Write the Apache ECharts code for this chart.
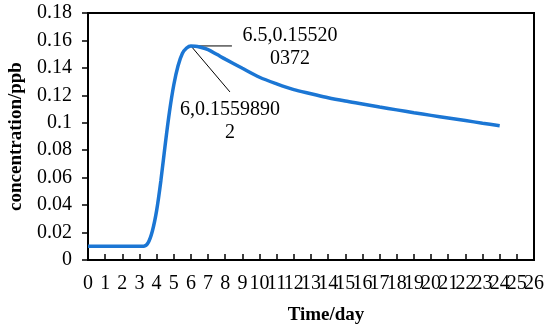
<!DOCTYPE html>
<html>
<head>
<meta charset="utf-8">
<script src="https://cdn.jsdelivr.net/npm/echarts@6/dist/echarts.min.js"></script>
<style>html,body{margin:0;padding:0;background:#fff;}#c{width:550px;height:335px;}</style>
</head>
<body>
<div id="c"></div>
<script>
var days = [0, 1, 2, 3, 3.25, 3.5, 3.75, 4, 4.25, 4.5, 4.75, 5, 5.25, 5.5, 5.75, 6, 6.25, 6.5, 7, 7.5, 8, 9, 10, 11, 12, 13, 14, 15, 16, 17, 18, 19, 20, 21, 22, 23, 24];
var concentration = [0.01, 0.01, 0.01, 0.01, 0.0101, 0.0125, 0.021, 0.036, 0.058, 0.084, 0.108, 0.1275, 0.1415, 0.1505, 0.1545, 0.15598902, 0.1558, 0.155200372, 0.1533, 0.1499, 0.1464, 0.1397, 0.1332, 0.1284, 0.1242, 0.1212, 0.1182, 0.1158, 0.1137, 0.1115, 0.1094, 0.1073, 0.1054, 0.1035, 0.1016, 0.0997, 0.0979];
var xTicks = {min: 0, max: 26, interval: 1};
var yTicks = {min: 0, max: 0.18, interval: 0.02};
var annotations = [
  {x: 6.5, y: 0.155200372, text: '6.5,0.15520\n0372'},
  {x: 6, y: 0.15598902, text: '6,0.1559890\n2'}
];
var FONT = '"Liberation Serif", "Times New Roman", serif';

var chart = echarts.init(document.getElementById('c'), null, {renderer: 'canvas'});
var seriesData = days.map(function (d, i) { return [d, concentration[i]]; });
var xLabelBase = {fontFamily: FONT, fontSize: 20, color: '#000', margin: 14, hideOverlap: false};

chart.setOption({
  animation: false,
  backgroundColor: '#fff',
  grid: {left: 88, right: 16, top: 13, bottom: 75, show: true, borderColor: '#000', borderWidth: 2,
    containLabel: false, outerBoundsMode: 'none'},
  xAxis: [{
    type: 'value', position: 'bottom', min: xTicks.min, max: xTicks.max, interval: xTicks.interval,
    name: 'Time/day', nameLocation: 'middle', nameGap: 46,
    nameTextStyle: {fontFamily: FONT, fontSize: 19, fontWeight: 'bold', color: '#000', padding: [0, 0, 0, 30]},
    axisLine: {show: true, lineStyle: {color: '#000', width: 2}},
    axisTick: {show: true, inside: true, length: 6, lineStyle: {color: '#000', width: 1.5}},
    axisLabel: Object.assign({showMinLabel: true, showMaxLabel: false}, xLabelBase),
    splitLine: {show: false}
  }, {
    type: 'value', position: 'bottom', min: xTicks.min, max: xTicks.max, interval: xTicks.interval,
    axisLine: {show: false}, axisTick: {show: false}, splitLine: {show: false},
    axisLabel: Object.assign({showMinLabel: false, showMaxLabel: true,
      formatter: function (v) { return v === xTicks.max ? String(v) : ''; }}, xLabelBase)
  }],
  yAxis: {
    type: 'value', min: yTicks.min, max: yTicks.max, interval: yTicks.interval,
    name: 'concentration/ppb', nameLocation: 'middle', nameGap: 62,
    nameTextStyle: {fontFamily: FONT, fontSize: 19, fontWeight: 'bold', color: '#000'},
    axisLine: {show: true, lineStyle: {color: '#000', width: 2}},
    axisTick: {show: true, inside: false, length: 6, lineStyle: {color: '#000', width: 1.5}},
    axisLabel: {fontFamily: FONT, fontSize: 20, color: '#000', margin: 16, showMinLabel: true, showMaxLabel: true,
      formatter: function (v) { return String(+v.toFixed(2)); }},
    splitLine: {show: false}
  },
  series: [{
    type: 'line', xAxisIndex: 0, data: seriesData, smooth: 0.3, showSymbol: false,
    lineStyle: {color: '#1b76d4', width: 3.5}, itemStyle: {color: '#1b76d4'}
  }]
});

var p6 = chart.convertToPixel({xAxisIndex: 0, yAxisIndex: 0}, [annotations[1].x, annotations[1].y]);
var lineStyle = {stroke: '#000', lineWidth: 1};
var textStyle = function (t) {
  return {text: t, font: '20px ' + FONT, fill: '#000', align: 'center', verticalAlign: 'middle', lineHeight: 23};
};
chart.setOption({
  graphic: [
    {type: 'line', shape: {x1: p6[0], y1: p6[1], x2: p6[0] + 41, y2: p6[1]}, style: lineStyle},
    {type: 'text', x: p6[0] + 99, y: p6[1] + 1, style: textStyle(annotations[0].text)},
    {type: 'line', shape: {x1: p6[0], y1: p6[1], x2: p6[0] + 39, y2: p6[1] + 46}, style: lineStyle},
    {type: 'text', x: p6[0] + 39, y: p6[1] + 75, style: textStyle(annotations[1].text)}
  ]
});
</script>
</body>
</html>
